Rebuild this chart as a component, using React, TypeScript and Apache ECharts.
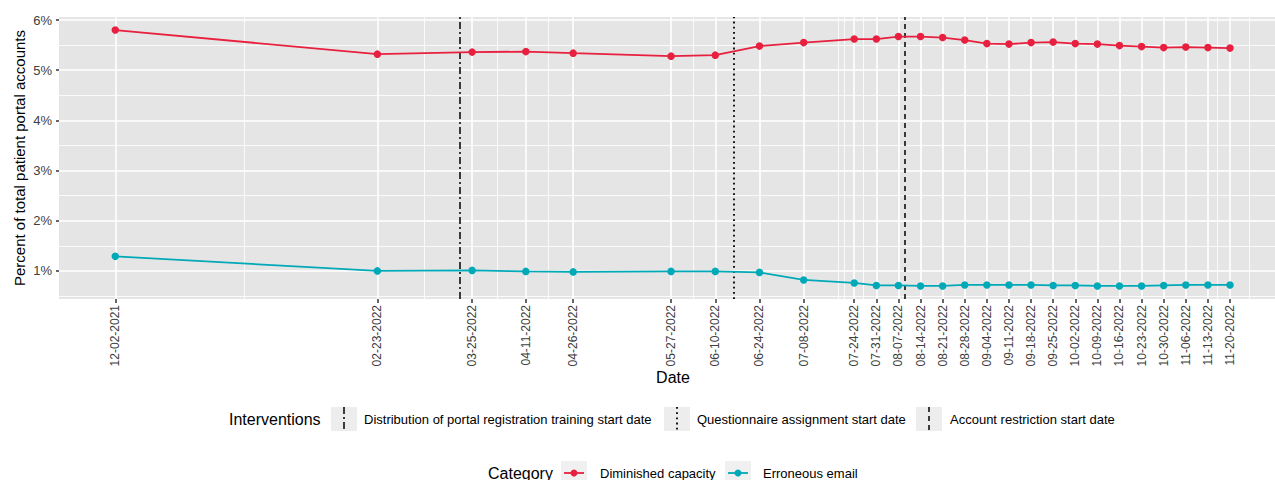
import React, { useEffect, useRef } from "react";
import * as echarts from "echarts";

// ---------- data ----------
const dates = [
  "2021-12-02", "2022-02-23", "2022-03-25", "2022-04-11", "2022-04-26",
  "2022-05-27", "2022-06-10", "2022-06-24", "2022-07-08", "2022-07-24",
  "2022-07-31", "2022-08-07", "2022-08-14", "2022-08-21", "2022-08-28",
  "2022-09-04", "2022-09-11", "2022-09-18", "2022-09-25", "2022-10-02",
  "2022-10-09", "2022-10-16", "2022-10-23", "2022-10-30", "2022-11-06",
  "2022-11-13", "2022-11-20",
];
const diminishedCapacity = [
  5.80, 5.32, 5.36, 5.37, 5.34, 5.28, 5.30, 5.48, 5.55, 5.62,
  5.62, 5.67, 5.67, 5.65, 5.60, 5.53, 5.52, 5.55, 5.56, 5.53,
  5.52, 5.49, 5.47, 5.45, 5.46, 5.45, 5.44,
];
const erroneousEmail = [
  1.29, 1.00, 1.01, 0.99, 0.98, 0.99, 0.99, 0.97, 0.82, 0.76,
  0.71, 0.71, 0.70, 0.70, 0.72, 0.72, 0.72, 0.72, 0.71, 0.71,
  0.70, 0.70, 0.70, 0.71, 0.72, 0.72, 0.72,
];
const seriesNames = ["Diminished capacity", "Erroneous email"];
const seriesColors = ["#E8203F", "#00A9B7"];

const interventionDates = ["2022-03-21", "2022-06-16", "2022-08-09"];
const interventionLabels = [
  "Distribution of portal registration training start date",
  "Questionnaire assignment start date",
  "Account restriction start date",
];
const interventionDash = [
  [7, 3, 2, 3],
  [1.8, 3.4],
  [5, 4],
];

const yMajor = [1, 2, 3, 4, 5, 6];
const yMinor = [0.5, 1.5, 2.5, 3.5, 4.5, 5.5];
const xMinor = [
  "2022-01-12", "2022-03-10", "2022-04-02", "2022-04-18", "2022-06-03",
  "2022-07-19", "2022-07-21", "2022-07-27", "2022-11-16", "2022-11-26",
];

// axis limits
const xMin = new Date(2021, 10, 14, 4, 20).getTime();
const xMax = new Date(2022, 11, 4, 6, 0).getTime();
const yMin = 0.44;
const yMax = 6.06;

// ---------- helpers ----------
const ts = (s: string) => {
  const [y, m, d] = s.split("-").map(Number);
  return new Date(y, m - 1, d).getTime();
};
const pad = (n: number) => (n < 10 ? "0" + n : "" + n);
const fmtDate = (v: number) => {
  const d = new Date(v);
  return `${pad(d.getMonth() + 1)}-${pad(d.getDate())}-${d.getFullYear()}`;
};

const FONT = "Liberation Sans";
const GRID_LEFT = 59;
const GRID_TOP = 17;
const GRID_H = 282;

export default function App() {
  const ref = useRef<HTMLDivElement>(null);

  useEffect(() => {
    if (!ref.current) return;
    const chart = echarts.init(ref.current, undefined, { renderer: "svg" });
    const dateTs = dates.map(ts);

    const gridLines: any[] = [
      ...yMinor.map((v) => ({ yAxis: v, lineStyle: { width: 0.8 } })),
      ...xMinor.map((d) => ({ xAxis: ts(d), lineStyle: { width: 0.8 } })),
      ...yMajor.map((v) => ({ yAxis: v, lineStyle: { width: 1.6 } })),
      ...dateTs.map((t) => ({ xAxis: t, lineStyle: { width: 1.6 } })),
    ];

    const legendGraphics: any[] = [];
    const row1Y = 419;
    legendGraphics.push({
      type: "text", x: 229, y: row1Y,
      style: { text: "Interventions", fontSize: 16, fontFamily: FONT, fill: "#000", verticalAlign: "middle", align: "left" },
    });
    const keyX1 = [331, 664, 916];
    const textX1 = [364, 697, 950];
    interventionLabels.forEach((lab, i) => {
      legendGraphics.push({
        type: "rect", shape: { x: keyX1[i], y: 407, width: 26, height: 24 },
        style: { fill: "#EDEDED" },
      });
      legendGraphics.push({
        type: "line", shape: { x1: keyX1[i] + 13, y1: 407, x2: keyX1[i] + 13, y2: 431 },
        style: { stroke: "#000", lineWidth: i === 1 ? 1.8 : 1.5, lineDash: interventionDash[i] },
      });
      legendGraphics.push({
        type: "text", x: textX1[i], y: row1Y,
        style: { text: lab, fontSize: 13, fontFamily: FONT, fill: "#000", verticalAlign: "middle", align: "left" },
      });
    });
    const row2Y = 473;
    legendGraphics.push({
      type: "text", x: 488, y: row2Y,
      style: { text: "Category", fontSize: 16, fontFamily: FONT, fill: "#000", verticalAlign: "middle", align: "left" },
    });
    const keyX2 = [561, 725];
    const textX2 = [600, 763];
    seriesNames.forEach((nm, i) => {
      legendGraphics.push({
        type: "rect", shape: { x: keyX2[i], y: 461, width: 26, height: 24 },
        style: { fill: "#F0F0F0" },
      });
      legendGraphics.push({
        type: "line", shape: { x1: keyX2[i] + 3, y1: row2Y, x2: keyX2[i] + 23, y2: row2Y },
        style: { stroke: seriesColors[i], lineWidth: 1.8 },
      });
      legendGraphics.push({
        type: "circle", shape: { cx: keyX2[i] + 13, cy: row2Y, r: 3.5 },
        style: { fill: seriesColors[i] },
      });
      legendGraphics.push({
        type: "text", x: textX2[i], y: row2Y,
        style: { text: nm, fontSize: 13, fontFamily: FONT, fill: "#000", verticalAlign: "middle", align: "left" },
      });
    });

    const option: any = {
      animation: false,
      textStyle: { fontFamily: FONT },
      grid: {
        left: GRID_LEFT, top: GRID_TOP, width: 1275 - GRID_LEFT, height: GRID_H,
        show: true, backgroundColor: "#E5E5E5", borderWidth: 0,
      },
      xAxis: {
        type: "value",
        min: xMin,
        max: xMax,
        axisLine: { show: false },
        splitLine: { show: false },
        axisTick: {
          show: true, customValues: dateTs, length: 4,
          lineStyle: { color: "#333333", width: 1.5 },
        },
        axisLabel: {
          customValues: dateTs, rotate: 90, margin: 6,
          fontSize: 12, color: "#404040", fontFamily: FONT,
          formatter: (v: number) => fmtDate(v),
        },
        name: "Date",
        nameLocation: "middle",
        nameGap: 70,
        nameMoveOverlap: false,
        nameTextStyle: { fontSize: 16, color: "#000", fontFamily: FONT, padding: [0, 0, 0, 12] },
      },
      yAxis: {
        type: "value",
        min: yMin,
        max: yMax,
        axisLine: { show: false },
        splitLine: { show: false },
        axisTick: {
          show: true, customValues: yMajor, length: 3,
          lineStyle: { color: "#333333", width: 1.5 },
        },
        axisLabel: {
          customValues: yMajor, margin: 7, fontSize: 13, color: "#404040", fontFamily: FONT,
          formatter: (v: number) => `${v}%`,
        },
        name: "Percent of total patient portal accounts",
        nameLocation: "middle",
        nameRotate: 90,
        nameGap: 32,
        nameMoveOverlap: false,
        nameTextStyle: { fontSize: 15, color: "#000", fontFamily: FONT },
      },
      series: [
        {
          type: "line",
          name: "grid",
          data: [],
          z: 1,
          silent: true,
          markLine: {
            silent: true,
            z: 1,
            symbol: ["none", "none"],
            label: { show: false },
            lineStyle: { color: "#FFFFFF", type: "solid" },
            emphasis: { disabled: true },
            data: gridLines,
          },
        },
        {
          type: "line",
          name: "interventions",
          data: [],
          z: 2,
          silent: true,
          markLine: {
            silent: true,
            z: 2,
            symbol: ["none", "none"],
            label: { show: false },
            emphasis: { disabled: true },
            data: interventionDates.map((d, i) => ({
              xAxis: ts(d),
              lineStyle: { color: "#000", width: i === 1 ? 1.8 : 1.5, type: interventionDash[i] },
            })),
          },
        },
        ...[diminishedCapacity, erroneousEmail].map((vals, i) => ({
          type: "line",
          name: seriesNames[i],
          data: dateTs.map((t, j) => [t, vals[j]]),
          symbol: "circle",
          symbolSize: 7.5,
          showSymbol: true,
          z: 10,
          itemStyle: { color: seriesColors[i] },
          lineStyle: { color: seriesColors[i], width: 1.8 },
        })),
      ],
      graphic: legendGraphics,
    };

    chart.setOption(option);
    return () => chart.dispose();
  }, []);

  return (
    <div
      ref={ref}
      style={{ position: "fixed", left: 0, top: 0, width: 1275, height: 480, background: "#fff" }}
    />
  );
}
